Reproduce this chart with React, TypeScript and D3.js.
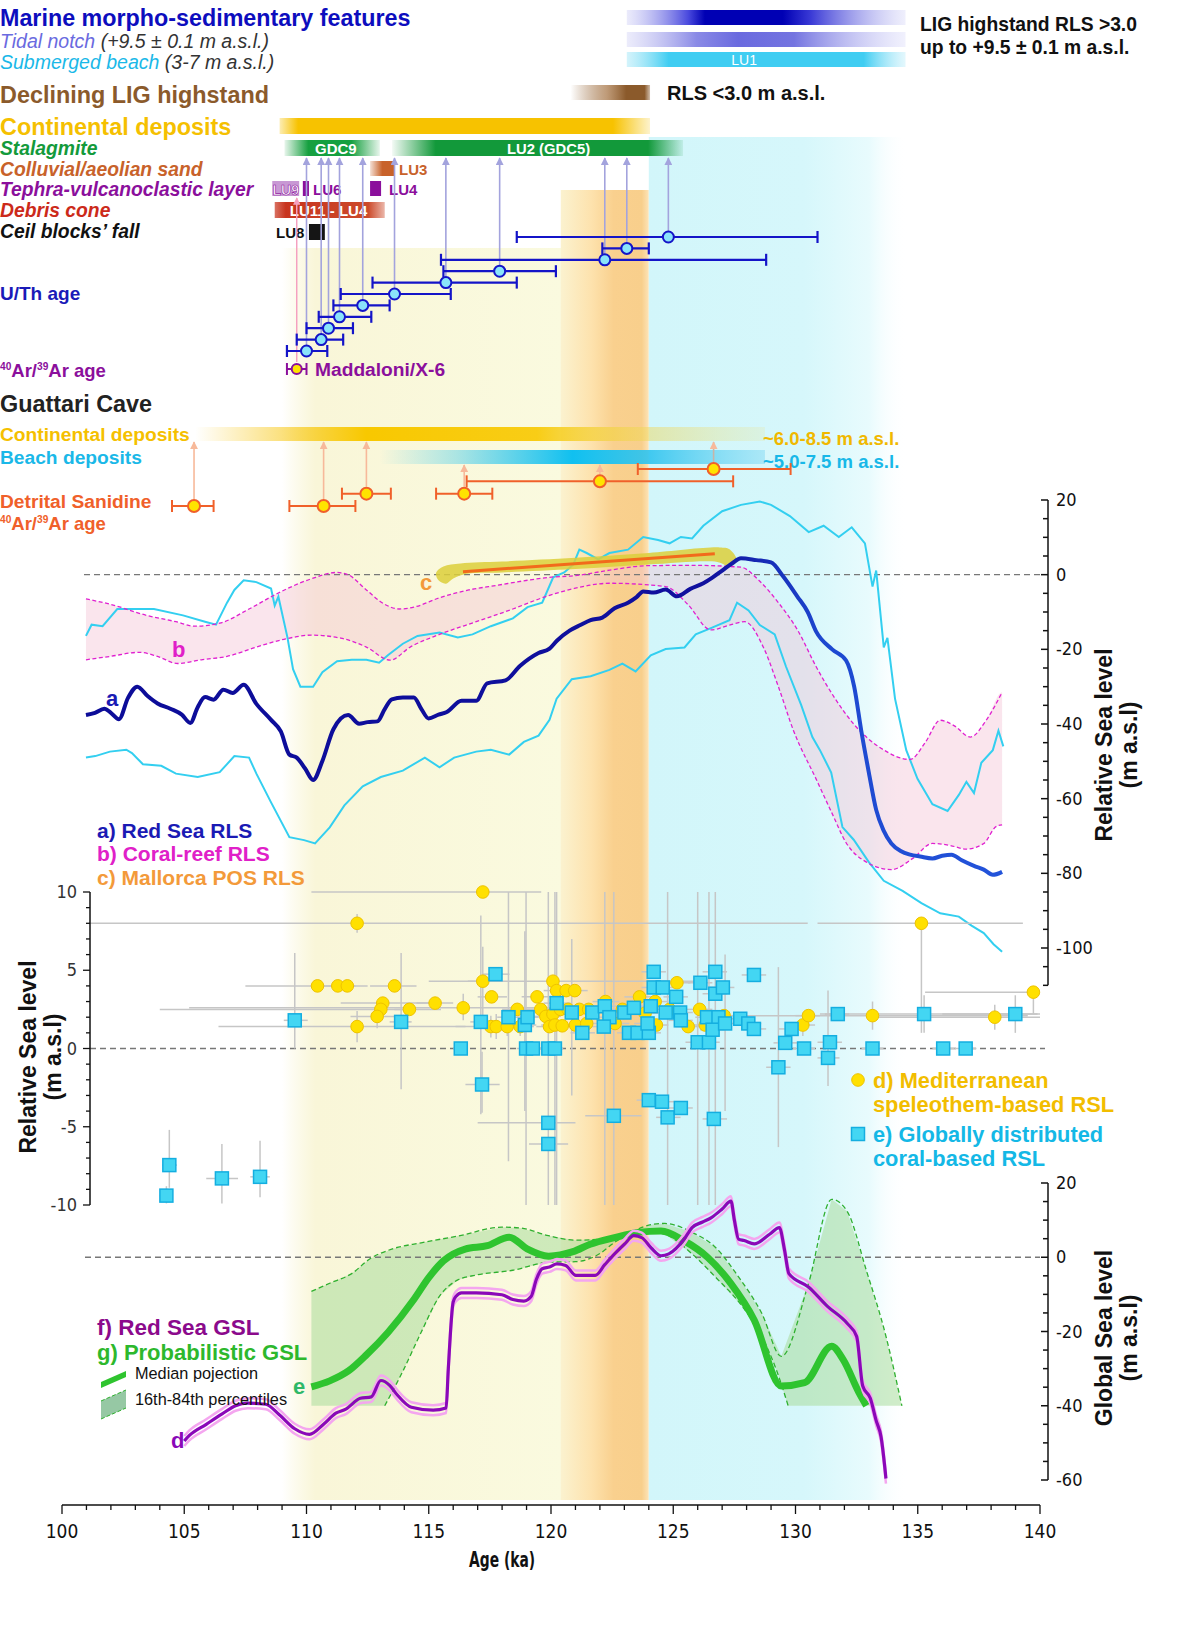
import React from "react";
import * as d3 from "d3";

type Pt = [number, number];
type Pt3 = [number, number, number];
// [age, value, ageMin, ageMax, valueMin, valueMax]
type ErrPt = [number, number, number, number, number, number];

// ---------- top panel: relative sea level (m a.s.l.) ----------
const redSeaRLS: Pt[] = [[100.98,-37.6],[101.35,-37],[101.73,-35.9],[102.0,-37],[102.33,-38.7],[102.7,-33],[103.08,-30],[103.5,-32.5],[103.91,-34.5],[104.43,-35.9],[104.9,-37.5],[105.25,-39.7],[105.55,-35.5],[105.85,-32.8],[106.2,-33.5],[106.6,-30.8],[106.98,-31.7],[107.43,-29.5],[107.95,-34.6],[108.55,-38.9],[108.95,-42],[109.3,-48.2],[109.6,-49],[109.95,-52],[110.27,-55],[110.65,-49.9],[111.1,-41.4],[111.7,-37.6],[112.15,-39.9],[112.5,-39.5],[112.9,-39.3],[113.2,-36],[113.49,-33.4],[113.94,-32.9],[114.39,-32.9],[114.7,-36],[114.99,-38.5],[115.4,-37.5],[115.74,-36.8],[116.34,-33.8],[116.94,-33.8],[117.39,-29.1],[118.14,-28.3],[118.74,-24.4],[119.49,-21],[119.94,-19.8],[120.24,-17.7],[120.76,-15],[121.2,-13.5],[121.62,-12.2],[122.1,-11.5],[122.6,-9],[123.15,-7.5],[123.5,-6],[123.77,-4.5],[124.2,-4.8],[124.69,-4],[125.15,-5.8],[125.7,-3.8],[126.23,-2.3],[126.6,-0.8],[127.0,1.1],[127.4,3],[127.77,4.4],[128.4,3.9],[129.0,3.3],[129.5,-0.5],[130.07,-5.8],[130.5,-10],[130.84,-15.2],[131.5,-20],[132.07,-23],[132.4,-30],[132.69,-41.8],[133.0,-53],[133.3,-63],[133.6,-68.5],[133.92,-72],[134.3,-74],[134.69,-75],[135.1,-75.5],[135.6,-76],[136.0,-75.3],[136.38,-75],[136.8,-76.5],[137.3,-78],[137.7,-79],[138.07,-80.4],[138.45,-79.6]];

const redSeaUpper: Pt[] = [[100.98,-16.4],[101.21,-13.4],[101.66,-13.8],[102.26,-9.2],[102.86,-9.2],[103.76,-9.2],[104.95,-10.9],[105.85,-12.6],[106.3,-13.4],[106.75,-7.5],[107.05,-4.1],[107.43,-1.5],[107.95,-2],[108.55,-3.7],[108.7,-8.3],[108.85,-5.9],[109.22,-16.8],[109.45,-25.3],[109.75,-30],[110.27,-30],[110.65,-26.1],[111.25,-23.2],[111.85,-22.8],[112.45,-22.8],[112.97,-23.6],[113.34,-21.5],[113.94,-18.5],[114.54,-16.4],[115.44,-15.5],[116.19,-16.8],[116.79,-16],[117.54,-13.8],[118.44,-11.7],[119.04,-8.7],[119.64,-7.5],[120.09,-0.7],[120.54,0.6],[120.91,2.7],[121.16,6.7],[121.46,5.8],[121.93,4.1],[122.39,5.8],[123.15,6.7],[123.77,10.1],[124.38,9.3],[124.85,8.4],[125.31,10.1],[125.77,9.7],[126.23,13.1],[127.0,17],[127.77,18.7],[128.54,19.6],[129.0,18.7],[129.77,15.7],[130.54,11.4],[131.15,13.1],[131.77,10.1],[132.3,12.7],[132.84,8.4],[133.15,-3.2],[133.3,1.1],[133.61,-19.5],[133.76,-16.9],[134.07,-33.2],[134.53,-47],[134.99,-54.7],[135.6,-61.5],[136.22,-63.3],[136.68,-59],[136.99,-55.5],[137.3,-58.5],[137.6,-50.4],[138.07,-47],[138.3,-41.8],[138.5,-46]];

const redSeaLower: Pt[] = [[100.98,-49],[101.36,-48.6],[101.96,-47.4],[102.63,-46.9],[102.86,-47.8],[103.31,-50.8],[104.06,-51.2],[104.66,-53.3],[105.55,-54.2],[106.45,-52.9],[107.05,-48.6],[107.65,-49],[107.95,-53.3],[108.55,-61],[109.3,-70.3],[109.9,-71.1],[110.35,-72],[110.95,-67.7],[111.55,-61.8],[112.3,-56.7],[113.04,-54.2],[113.94,-52.5],[114.84,-49],[115.44,-51.6],[116.04,-49],[116.94,-47.4],[117.54,-46.9],[118.29,-48.2],[118.89,-44.8],[119.49,-43.1],[119.94,-38.9],[120.23,-33.2],[120.85,-28],[121.62,-27.2],[122.39,-25.5],[122.92,-23.8],[123.46,-25.9],[124.08,-21.6],[124.69,-19.9],[125.46,-19.5],[125.92,-16],[126.54,-14.3],[127.3,-12.2],[127.61,-7.5],[128.08,-9.6],[128.54,-13.5],[129.15,-16],[129.61,-24.6],[130.23,-34.9],[130.69,-43.5],[131.0,-47],[131.46,-53],[131.92,-67.6],[132.38,-71],[133.0,-77],[133.61,-82],[134.38,-84.7],[135.15,-88],[135.92,-90.7],[136.68,-91.6],[137.2,-94],[137.7,-96],[138.1,-99],[138.45,-101]];

const coralUpper: Pt[] = [[100.98,-6.5],[101.96,-7.9],[103.46,-10.9],[104.66,-12.6],[105.4,-13.8],[106.45,-13],[107.65,-9.2],[108.85,-4.9],[110.2,-1.1],[111.25,0.6],[111.7,0],[112.45,-4.1],[113.19,-7.9],[113.79,-9.2],[114.39,-8.7],[115.44,-6.2],[116.64,-4.1],[117.84,-2.8],[119.04,-1.5],[119.94,-0.7],[120.95,-0.3],[122.4,1.2],[123.92,2.4],[125.8,2.5],[127.77,2],[128.5,-1.5],[129.3,-7.5],[130.1,-15],[130.84,-24.6],[131.6,-33],[132.38,-40],[133.5,-46.5],[134.69,-49.5],[135.3,-45],[135.92,-39],[136.5,-40.5],[137.15,-43.5],[137.8,-39],[138.45,-31.5]];

const coralLower: Pt[] = [[100.98,-22.8],[101.96,-21.9],[103.16,-20.8],[103.91,-21.9],[104.73,-23.8],[105.7,-22.8],[106.75,-21.9],[107.95,-19.4],[109.15,-17.2],[110.2,-16.2],[111.4,-17],[112.45,-19.4],[113.42,-22.9],[114.24,-19.4],[115.44,-16],[116.94,-12.6],[118.44,-9.2],[119.64,-6.2],[120.95,-3.7],[122.39,-2.3],[124.69,-3.2],[125.6,-8],[126.54,-14.8],[127.3,-13.5],[127.92,-12.6],[128.69,-19.5],[129.3,-30],[129.92,-41.8],[130.84,-54.7],[131.5,-64],[132.07,-71.8],[132.9,-77],[133.92,-79],[134.8,-76],[135.6,-72],[136.3,-72.5],[136.99,-73.5],[137.7,-72],[138.2,-67.5],[138.45,-67]];

const mallorcaLine: Pt[] = [[116.4,0.8],[126.7,5.6]];
const mallorcaBand: Pt[] = [[115.3,0.5],[115.6,2.2],[116.3,3.0],[118,3.5],[121,4.5],[124,5.8],[126.9,7.3],[127.3,6.8],[127.6,3.7],[127.3,2.2],[126.8,3.4],[124,2.7],[121,1.5],[118,0.6],[116.5,0.2],[116.0,-1.0],[115.7,-2.4],[115.4,-1.5]];

// ---------- dating: U/Th, Ar/Ar ([age, min, max]) ----------
const uthAges: Pt3[] = [[124.8,118.6,130.9],[123.1,122.1,124.0],[122.2,115.5,128.8],[117.9,115.6,120.2],[115.7,112.7,118.6],[113.6,111.4,115.9],[112.3,111.1,113.4],[111.35,110.5,112.65],[110.9,110.0,111.9],[110.6,109.6,111.5],[110.0,109.2,110.85]];
const maddaloniAge: Pt3 = [109.6, 109.2, 110.0];
const sanidineAges: Pt3[] = [[105.4,104.5,106.2],[110.7,109.3,112.0],[112.45,111.45,113.45],[116.45,115.3,117.6],[122.0,116.55,127.45],[126.65,123.55,129.8]];
const sanidineRow = [0, 0, 1, 1, 2, 3];
const sanidineTarget = ["cont", "cont", "cont", "beach", "beach", "cont"];

// ---------- middle panel: RSL index points ----------
const speleothemRSL: ErrPt[] = [
  [117.21,10,110.2,119.6,10,10],[112.07,8,101.1,130.5,7.4,8.6],[110.45,4,107.5,111.3,4,4],[111.28,4,110.4,112.0,4,4],
  [111.67,4,110.9,112.5,4,4],[113.6,4,112.6,114.5,4,4],[113.12,2.9,111.4,115.2,2.9,2.9],[113.04,2.5,104.0,114.0,1.8,3.2],
  [112.89,2.05,111.8,113.9,1.3,2.7],[114.21,2.5,113.6,115.5,2.5,2.5],[115.26,2.9,114.5,116.0,2.9,2.9],[116.41,2.6,105.2,121.0,1.8,3.5],
  [112.07,1.4,106.4,116.5,0.4,2.4],[117.21,4.3,116.6,117.9,1.5,6.5],[117.57,3.3,117.0,118.2,3.3,3.3],[117.54,1.4,116.1,118.3,0.7,2.1],
  [117.76,1.4,117.2,118.4,0.6,2.2],[118.21,1.4,117.7,118.8,0.8,2.0],[118.62,2.5,118.0,119.3,2.5,2.5],[118.74,1.4,118.2,119.3,0.8,2.0],
  [119.43,3.3,118.8,120.1,3.3,3.3],[119.58,2.5,118.9,120.3,2.5,2.5],[119.79,2.05,119.2,120.4,2.05,2.05],[119.94,1.4,119.4,120.5,1.4,1.4],
  [120.08,4.3,115.0,126.0,4.3,4.3],[120.23,3.7,119.7,120.8,3.7,3.7],[120.62,3.7,120.1,121.2,3.7,3.7],[120.97,3.7,120.4,121.5,3.7,3.7],
  [120.08,2.2,119.5,120.6,2.2,2.2],[120.39,2.5,119.9,120.9,2.5,2.5],[120.7,2.5,120.2,121.2,2.5,2.5],[121.16,2.5,120.6,121.7,2.5,2.5],
  [121.54,2.5,121.0,122.1,2.5,2.5],[122.23,3.0,121.7,122.8,3.0,3.0],[120.16,1.5,119.6,120.7,1.5,1.5],[120.46,1.45,119.9,121.0,1.45,1.45],
  [121.0,1.5,120.5,121.5,1.5,1.5],[121.46,1.6,120.9,122.0,1.6,1.6],[122.62,1.6,122.0,123.2,1.6,1.6],[122.92,2.5,122.3,123.5,2.5,2.5],
  [123.62,3.3,123.0,124.2,3.3,3.3],[123.85,2.26,123.3,124.4,2.26,2.26],[124.26,3.0,123.7,124.8,3.0,3.0],[124.31,1.5,123.8,124.8,1.5,1.5],
  [124.85,2.5,124.3,125.4,2.5,2.5],[125.15,4.2,124.6,125.7,4.2,4.2],[125.61,1.4,125.1,126.1,1.4,1.4],[126.08,2.5,125.5,126.6,2.5,2.5],
  [126.31,1.5,125.8,126.8,1.5,1.5],[127.08,2.1,126.5,127.6,2.1,2.1],[130.3,1.5,129.8,130.8,0.8,2.3],[130.53,2.1,130.0,131.0,2.1,2.1],
  [133.15,2.1,128.0,139.5,1.2,3.0],[135.15,8,130.9,139.3,1.0,8],[138.15,2.0,133.0,140.0,1.2,2.8],[139.73,3.6,135.3,139.73,2.2,3.6],
];

const coralRSL: ErrPt[] = [
  [104.39,-7.45,104.1,104.7,-8.9,-5.2],[104.27,-9.4,104.0,104.5,-9.9,-8.8],[106.54,-8.3,105.9,107.2,-9.9,-6.1],[108.1,-8.2,107.7,108.5,-9.5,-5.9],
  [109.52,1.8,109.07,110.05,0,6.1],[113.87,1.7,113.4,114.3,-2.6,6.1],[116.31,0,116.0,116.6,0,0],[117.13,1.7,116.7,117.6,-4.2,8.5],
  [117.18,-2.3,116.5,117.9,-4.1,-0.2],[117.73,4.75,117.2,118.3,4.75,4.75],[118.26,2.0,117.8,118.7,-7.2,10],[118.93,1.5,118.4,119.4,-4,7.5],
  [119.04,2.0,118.6,119.5,2.0,2.0],[118.98,0,118.6,119.3,-10,10],[119.26,0,118.9,119.6,0,0],[119.89,0,119.5,120.3,-10,10],
  [120.16,0,119.8,120.5,-10,10],[119.89,-4.75,117.0,121.0,-4.75,-4.75],[119.89,-6.1,119.1,120.7,-6.1,-6.1],
  [120.23,2.9,119.7,120.8,-10,10],[120.85,2.3,120.3,121.4,-3,7],[121.28,1.0,120.8,121.8,1.0,1.0],[121.69,2.3,121.2,122.2,2.3,2.3],
  [122.2,2.7,121.7,122.7,-10,10],[122.39,2.0,121.9,122.9,2.0,2.0],[122.16,1.4,121.6,122.7,1.4,1.4],[123.0,2.3,122.5,123.5,2.3,2.3],
  [123.39,2.6,122.9,123.9,2.6,2.6],[123.19,1.0,122.7,123.7,1.0,1.0],[123.54,1.0,123.0,124.0,1.0,1.0],[124.0,1.0,123.5,124.5,1.0,1.0],
  [123.95,1.6,123.4,124.5,1.6,1.6],[124.08,2.7,123.6,124.6,2.7,2.7],[124.2,4.9,123.7,124.7,4.9,4.9],[124.2,3.9,123.7,124.7,3.9,3.9],
  [124.57,3.9,124.1,125.1,3.9,3.9],[124.69,2.3,124.2,125.2,2.3,2.3],[125.12,3.3,124.6,125.6,3.3,3.3],[125.28,2.3,124.8,125.8,2.3,2.3],
  [125.31,1.8,124.8,125.8,1.8,1.8],[126.0,0.4,125.5,126.5,-10,10],[126.46,0.4,126.0,126.9,-10,10],[126.11,4.2,125.6,126.6,4.2,4.2],
  [126.72,4.9,126.2,127.2,-10,10],[126.72,3.5,126.2,127.2,3.5,3.5],[127.03,3.9,126.5,127.5,3.9,3.9],[126.38,2.0,125.9,126.9,2.0,2.0],
  [126.85,2.0,126.4,127.3,2.0,2.0],[126.61,1.2,126.1,127.1,1.2,1.2],[127.12,1.6,126.6,127.6,-4,6],[127.74,1.9,127.2,128.3,1.9,1.9],
  [128.3,4.7,127.8,128.8,4.7,4.7],[128.07,1.6,127.5,128.6,1.6,1.6],[128.3,1.25,127.8,128.8,1.25,1.25],[129.3,-1.2,128.8,129.8,-6.3,5.2],
  [129.58,0.36,129.1,130.1,0.36,0.36],[129.84,1.25,129.3,130.3,1.25,1.25],[130.35,0,129.9,130.8,0,0],[131.33,-0.6,130.9,131.8,-2.4,3.7],
  [131.41,0.4,130.9,131.9,0.4,0.4],[131.73,2.2,131.2,132.2,2.2,2.2],[133.15,0,132.7,133.6,0,0],[135.26,2.2,131.0,140.0,1.0,3.4],
  [136.04,0,135.6,136.5,0,0],[136.96,0,136.5,137.4,0,0],[138.99,2.2,136.0,139.9,1.0,3.4],[124.0,-3.3,123.5,124.5,-3.3,-3.3],
  [124.54,-3.4,124.0,125.1,-3.4,-3.4],[122.57,-4.3,121.4,123.7,-10,10],[124.77,-4.4,124.3,125.3,-10,10],[125.31,-3.8,124.8,125.8,-3.8,-3.8],
  [126.66,-4.5,126.2,127.2,-4.5,-4.5],
];

// ---------- bottom panel: global sea level ----------
const redSeaGSL: Pt[] = [[105.0,-49.5],[105.21,-48],[105.9,-45],[106.55,-42.2],[107.1,-40],[107.59,-39.3],[108.33,-39.6],[108.9,-42.5],[109.52,-46.2],[110.12,-47.7],[110.71,-44.9],[111.2,-42],[111.61,-40.9],[112.2,-38],[112.65,-37.6],[113.04,-33.2],[113.4,-34.5],[113.69,-36.9],[114.29,-40.4],[115.18,-41.2],[115.71,-40.6],[115.8,-30],[116.0,-12],[116.12,-10.5],[116.34,-9.6],[116.94,-9.6],[117.99,-10.1],[118.44,-11.4],[118.89,-11.8],[119.19,-10.5],[119.4,-6],[119.64,-3.1],[119.94,-2.6],[120.24,-1.8],[120.6,-2.2],[121.02,-4.9],[121.81,-4.9],[122.2,-2],[122.6,0.9],[123.0,3.5],[123.39,5.8],[123.71,5.3],[124.1,2.5],[124.5,0.4],[124.82,0.9],[125.45,4.9],[125.77,8],[126.2,9.5],[126.56,10.7],[127.0,13],[127.36,15.1],[127.5,10],[127.67,4.9],[127.9,4.5],[128.31,3.6],[128.94,6.2],[129.34,8],[129.55,2],[129.73,-4.4],[130.53,-8],[131.32,-13.3],[132.11,-17.8],[132.5,-21.3],[132.75,-34.7],[133.06,-38],[133.3,-44],[133.5,-48.4],[133.7,-59.6]];

const probMedian: Pt[] = [[110.2,-34.9],[110.95,-33.3],[111.7,-30.7],[112.45,-26.3],[113.34,-20.2],[114.39,-11.4],[115.0,-5.5],[115.6,-1],[116.49,2.2],[117.39,3.1],[118.29,5.4],[119.04,2.2],[119.9,0.3],[120.9,1.5],[121.6,3.5],[122.6,5.3],[123.55,6.7],[124.5,7.1],[125.45,4.4],[126.4,0],[127.36,-7.1],[128.31,-16.9],[129.42,-34.7],[130.37,-33.8],[131.48,-24],[131.95,-27.6],[132.59,-36.4],[132.9,-40]];
const probUpper: Pt[] = [[110.2,-9.2],[110.95,-7],[111.85,-4.4],[112.6,-0.4],[113.49,2.2],[114.69,3.9],[116.19,5.7],[117.99,8.1],[118.74,7.9],[119.9,5.8],[121.0,4.6],[122.6,5.3],[124.19,8.9],[124.66,9.1],[125.77,6.7],[126.72,2.7],[127.67,-5.3],[128.62,-15.1],[129.42,-26.7],[130.53,-7.1],[131.48,15.6],[132.11,12.4],[132.9,-3.6],[133.7,-21.3],[134.35,-40]];
const probLower: Pt[] = [[113.2,-40],[113.94,-30.7],[114.69,-20.2],[115.44,-10.5],[116.19,-6.1],[116.94,-4.8],[118.44,-3.5],[119.94,-1.3],[121.0,-1.2],[122.0,1.0],[122.6,4.0],[123.71,7.1],[124.66,6.2],[125.77,0.9],[126.72,-5.3],[127.83,-13.3],[128.62,-21.3],[129.26,-31.1],[129.7,-40]];

// ---------- layout ----------
const W = 1199, H = 1643;
const F = "'Liberation Sans', Arial, Helvetica, sans-serif";
const FN = "'Liberation Sans Narrow', 'Arial Narrow', 'DejaVu Sans Condensed', sans-serif";

const x = d3.scaleLinear().domain([100, 140]).range([62, 1040]);
const yTop = d3.scaleLinear().domain([20, -100]).range([500, 948]);
const yMid = d3.scaleLinear().domain([10, -10]).range([892, 1205]);
const yBot = d3.scaleLinear().domain([20, -60]).range([1183, 1480]);
const yUth = d3.scaleLinear().domain([0, 10]).range([237, 351]);
const ySan = d3.scaleLinear().domain([0, 3]).range([506, 469]);

const topSmooth = d3.line<Pt>().x(d => x(d[0])).y(d => yTop(d[1])).curve(d3.curveMonotoneX);
const topJag = d3.line<Pt>().x(d => x(d[0])).y(d => yTop(d[1]));
const topBlob = d3.line<Pt>().x(d => x(d[0])).y(d => yTop(d[1])).curve(d3.curveCatmullRomClosed.alpha(0.5));
const botSmooth = d3.line<Pt>().x(d => x(d[0])).y(d => yBot(d[1])).curve(d3.curveMonotoneX);
const botPoly = d3.line<Pt>().x(d => x(d[0])).y(d => yBot(d[1])).curve(d3.curveLinearClosed);

type Stop = [number, string, number];
const Grad = ({ id, stops }: { id: string; stops: Stop[] }) => (
  <linearGradient id={id} x1="0" x2="1" y1="0" y2="0">
    {stops.map((s, i) => <stop key={i} offset={s[0]} stopColor={s[1]} stopOpacity={s[2]} />)}
  </linearGradient>
);

const Bar = ({ a, b, y, h, fill }: { a: number; b: number; y: number; h: number; fill: string }) => (
  <rect x={x(a)} y={y} width={x(b) - x(a)} height={h} fill={fill} />
);

const ArAr = ({ y, size, fill }: { y: number; size: number; fill: string }) => (
  <text x={0} y={y} fontSize={size} fontWeight="bold" fill={fill}>
    <tspan fontSize={size * 0.55} dy={-7}>40</tspan><tspan dy={7}>Ar/</tspan>
    <tspan fontSize={size * 0.55} dy={-7}>39</tspan><tspan dy={7}>Ar age</tspan>
  </text>
);

export default function App() {
  const coralPoly = [...coralUpper, ...coralLower.slice().reverse()];
  const gslPoly: Pt[] = [[110.2, -40], ...probUpper, ...probLower.slice().reverse()];
  const uthArrowTop = 158;

  const topTicks = d3.range(20, -111, -5);
  const botTicks = d3.range(20, -61, -5);
  const midTicks = d3.range(10, -11, -1);
  const xTicks = d3.range(100, 141, 1);

  return (
    <svg width={W} height={H} viewBox={`0 0 ${W} ${H}`} style={{ position: "absolute", left: 0, top: 0, background: "#fff" }} fontFamily={F}>
      <defs>
        <Grad id="gYellow" stops={[[0, "#f8f4d0", 0], [0.12, "#f9f6d8", 1], [1, "#fafadf", 1]]} />
        <Grad id="gOrange" stops={[[0, "#fbf2cf", 1], [0.35, "#fde2ad", 1], [0.6, "#f9d08e", 1], [0.92, "#f8cf8c", 1], [1, "#fde4b8", 1]]} />
        <Grad id="gCyan" stops={[[0, "#d2f6fa", 1], [0.6, "#d6f7fb", 1], [0.85, "#e8fbfd", 1], [1, "#ffffff", 0]]} />
        <Grad id="gBarA" stops={[[0, "#b0b0f0", 0.25], [0.22, "#4a4ade", 1], [0.28, "#0000b4", 1], [0.56, "#0000b4", 1], [0.66, "#3a3ad6", 1], [1, "#d8d8f8", 0.4]]} />
        <Grad id="gBarB" stops={[[0, "#c0c0f2", 0.3], [0.25, "#8a8ae6", 1], [0.4, "#6a6adf", 1], [0.6, "#7474e0", 1], [1, "#dcdcfa", 0.4]]} />
        <Grad id="gBarC" stops={[[0, "#a8e8f8", 0.5], [0.15, "#40cdf2", 1], [0.85, "#40cdf2", 1], [1, "#c8f0fb", 0.5]]} />
        <Grad id="gBrown" stops={[[0, "#8b5a2b", 0], [0.45, "#b08358", 0.8], [0.7, "#8b5a2b", 1], [0.93, "#8b5a2b", 1], [1, "#8b5a2b", 0.4]]} />
        <Grad id="gGold" stops={[[0, "#f7c200", 0.3], [0.05, "#f7c200", 1], [0.9, "#f7c200", 1], [1, "#f7c200", 0.2]]} />
        <Grad id="gGreen9" stops={[[0, "#16a040", 0.1], [0.25, "#16a040", 1], [0.7, "#16a040", 1], [1, "#16a040", 0.1]]} />
        <Grad id="gGreen2" stops={[[0, "#12993a", 0.05], [0.15, "#12993a", 1], [0.88, "#12993a", 1], [1, "#12993a", 0.1]]} />
        <Grad id="gLU3" stops={[[0, "#c8622a", 0.2], [0.5, "#c8622a", 1], [1, "#c8622a", 1]]} />
        <Grad id="gDebris" stops={[[0, "#c8341e", 0.7], [0.1, "#c8341e", 1], [0.85, "#cc4a2a", 1], [1, "#cc4a2a", 0.4]]} />
        <Grad id="gGCont" stops={[[0, "#f7c200", 0], [0.12, "#f7c200", 0.4], [0.3, "#f8c800", 1], [0.6, "#f8c800", 0.9], [0.8, "#efd860", 0.5], [1, "#e0ecc0", 0.4]]} />
        <Grad id="gGBeach" stops={[[0, "#18c0f0", 0], [0.2, "#18c0f0", 0.35], [0.5, "#10c0f0", 1], [0.7, "#30c4ef", 0.9], [1, "#90def5", 0.6]]} />
        <linearGradient id="gBlue" gradientUnits="userSpaceOnUse" x1={x(100)} x2={x(140)} y1="0" y2="0">
          <stop offset="0" stopColor="#0c0c98" />
          <stop offset="0.66" stopColor="#10109e" />
          <stop offset="0.78" stopColor="#1d48d0" />
          <stop offset="1" stopColor="#2456dc" />
        </linearGradient>
        <marker id="arU" viewBox="0 0 10 10" refX="9" refY="5" markerWidth="5" markerHeight="5" orient="auto">
          <path d="M0,0 L10,5 L0,10 z" fill="#a3a3dd" />
        </marker>
        <marker id="arS" viewBox="0 0 10 10" refX="9" refY="5" markerWidth="5" markerHeight="5" orient="auto">
          <path d="M0,0 L10,5 L0,10 z" fill="#f7b99a" />
        </marker>
        <marker id="arP" viewBox="0 0 10 10" refX="9" refY="5" markerWidth="5" markerHeight="5" orient="auto">
          <path d="M0,0 L10,5 L0,10 z" fill="#f5a0c0" />
        </marker>
      </defs>

      {/* background time bands */}
      <rect x={x(109.0)} y={248} width={x(120.5) - x(109.0)} height={1252} fill="url(#gYellow)" />
      <rect x={x(120.4)} y={190} width={x(124.0) - x(120.4)} height={1310} fill="url(#gOrange)" />
      <rect x={x(124.0)} y={137} width={x(134.6) - x(124.0)} height={1363} fill="url(#gCyan)" />

      {/* header texts */}
      <text x={0} y={26} fontSize={23.3} fontWeight="bold" fill="#0d0dbe">Marine morpho-sedimentary features</text>
      <text x={0} y={48} fontSize={19.5} fontStyle="italic">
        <tspan fill="#6a6ae0">Tidal notch</tspan><tspan fill="#333"> (+9.5 ± 0.1 m a.s.l.)</tspan>
      </text>
      <text x={0} y={69} fontSize={19.5} fontStyle="italic">
        <tspan fill="#1ab8e8">Submerged beach</tspan><tspan fill="#333"> (3-7 m a.s.l.)</tspan>
      </text>
      <text x={0} y={103} fontSize={23.4} fontWeight="bold" fill="#8b5a2b">Declining LIG highstand</text>
      <text x={0} y={135} fontSize={23.4} fontWeight="bold" fill="#f5c000">Continental deposits</text>
      <g fontSize={19.3} fontWeight="bold" fontStyle="italic">
        <text x={0} y={155} fill="#139a3b">Stalagmite</text>
        <text x={0} y={176} fill="#c8622a">Colluvial/aeolian sand</text>
        <text x={0} y={196} fill="#8b0f9c">Tephra-vulcanoclastic layer</text>
        <text x={0} y={217} fill="#cc2a1a">Debris cone</text>
        <text x={0} y={238} fill="#111">Ceil blocks’ fall</text>
      </g>
      <text x={0} y={300} fontSize={19} fontWeight="bold" fill="#1a1ab8">U/Th age</text>
      <ArAr y={377} size={18.5} fill="#8b0f9c" />
      <text x={0} y={412} fontSize={23.4} fontWeight="bold" fill="#222">Guattari Cave</text>
      <text x={0} y={441} fontSize={19.2} fontWeight="bold" fill="#f5c000">Continental deposits</text>
      <text x={0} y={464} fontSize={19.2} fontWeight="bold" fill="#1ab8e8">Beach deposits</text>
      <text x={0} y={508} fontSize={19.2} fontWeight="bold" fill="#f0602a">Detrital Sanidine</text>
      <ArAr y={530} size={18.5} fill="#f0602a" />

      {/* top-right marine bars */}
      <Bar a={123.1} b={134.5} y={10} h={15} fill="url(#gBarA)" />
      <Bar a={123.1} b={134.5} y={32} h={15} fill="url(#gBarB)" />
      <Bar a={123.1} b={134.5} y={52} h={15} fill="url(#gBarC)" />
      <text x={x(127.9)} y={64.5} fontSize={14} fill="#fff" textAnchor="middle">LU1</text>
      <text x={920} y={31} fontSize={19.3} fontWeight="bold" fill="#111">LIG highstand RLS &gt;3.0</text>
      <text x={920} y={54} fontSize={19.3} fontWeight="bold" fill="#111">up to +9.5 ± 0.1 m a.s.l.</text>
      <Bar a={120.8} b={124.05} y={85} h={15} fill="url(#gBrown)" />
      <text x={667} y={100} fontSize={20} fontWeight="bold" fill="#111">RLS &lt;3.0 m a.s.l.</text>

      {/* stratigraphic units */}
      <Bar a={108.9} b={124.05} y={118} h={16} fill="url(#gGold)" />
      <Bar a={109.1} b={113.0} y={140} h={16} fill="url(#gGreen9)" />
      <text x={x(111.2)} y={153.5} fontSize={15} fontWeight="bold" fill="#fff" textAnchor="middle">GDC9</text>
      <Bar a={113.5} b={125.4} y={140} h={16} fill="url(#gGreen2)" />
      <text x={x(119.9)} y={153.5} fontSize={14.8} fontWeight="bold" fill="#fff" textAnchor="middle">LU2 (GDC5)</text>
      <Bar a={112.6} b={113.6} y={161} h={15} fill="url(#gLU3)" />
      <text x={399} y={174.5} fontSize={15} fontWeight="bold" fill="#c8622a">LU3</text>
      <Bar a={108.6} b={109.7} y={181} h={15} fill="#c898d4" />
      <text x={x(109.15)} y={194.5} fontSize={14} fontWeight="bold" fill="#fff" stroke="#8b0f9c" strokeWidth={0.6} textAnchor="middle">LU9</text>
      <Bar a={109.85} b={110.1} y={181} h={15} fill="#8b0f9c" />
      <text x={313} y={194.5} fontSize={15} fontWeight="bold" fill="#8b0f9c">LU6</text>
      <Bar a={112.6} b={113.05} y={181} h={15} fill="#8b0f9c" />
      <text x={389} y={194.5} fontSize={15} fontWeight="bold" fill="#8b0f9c">LU4</text>
      <Bar a={108.7} b={113.2} y={202} h={16} fill="url(#gDebris)" />
      <text x={x(110.9)} y={215.5} fontSize={15} fontWeight="bold" fill="#fff" textAnchor="middle">LU11 - LU4</text>
      <text x={276} y={238} fontSize={15} fontWeight="bold" fill="#111">LU8</text>
      <Bar a={110.1} b={110.75} y={224} h={16} fill="#151515" />

      {/* U/Th arrows and ages */}
      {uthAges.map((d, i) => (
        <line key={"ua" + i} x1={x(d[0])} x2={x(d[0])} y1={yUth(i) - 6} y2={uthArrowTop} stroke="#a3a3dd" strokeWidth={1.6} markerEnd="url(#arU)" />
      ))}
      <line x1={x(maddaloniAge[0])} x2={x(maddaloniAge[0])} y1={362} y2={198} stroke="#f5a0c0" strokeWidth={1.5} markerEnd="url(#arP)" />
      {uthAges.map((d, i) => {
        const yy = yUth(i);
        return (
          <g key={"u" + i} stroke="#1414c8" strokeWidth={2.2}>
            <line x1={x(d[1])} x2={x(d[2])} y1={yy} y2={yy} />
            <line x1={x(d[1])} x2={x(d[1])} y1={yy - 6} y2={yy + 6} />
            <line x1={x(d[2])} x2={x(d[2])} y1={yy - 6} y2={yy + 6} />
            <circle cx={x(d[0])} cy={yy} r={5.5} fill="#8ae4fa" strokeWidth={2} />
          </g>
        );
      })}
      <g stroke="#8b0f9c" strokeWidth={2}>
        <line x1={x(maddaloniAge[1])} x2={x(maddaloniAge[2])} y1={369} y2={369} />
        <line x1={x(maddaloniAge[1])} x2={x(maddaloniAge[1])} y1={363} y2={375} />
        <line x1={x(maddaloniAge[2])} x2={x(maddaloniAge[2])} y1={363} y2={375} />
        <circle cx={x(maddaloniAge[0])} cy={369} r={5} fill="#ffe400" />
      </g>
      <text x={315} y={376} fontSize={19.2} fontWeight="bold" fill="#8b0f9c">Maddaloni/X-6</text>

      {/* Guattari deposits */}
      <Bar a={105.45} b={128.75} y={427} h={14} fill="url(#gGCont)" />
      <Bar a={113.0} b={128.75} y={450} h={14} fill="url(#gGBeach)" />
      <text x={763} y={445} fontSize={18.5} fontWeight="bold" fill="#f0b800">~6.0-8.5 m a.s.l.</text>
      <text x={763} y={468} fontSize={18.5} fontWeight="bold" fill="#18b8e8">~5.0-7.5 m a.s.l.</text>
      {sanidineAges.map((d, i) => {
        const yy = ySan(sanidineRow[i]);
        const target = sanidineTarget[i] === "cont" ? 442 : 465;
        return (
          <g key={"s" + i}>
            <line x1={x(d[0])} x2={x(d[0])} y1={yy - 7} y2={target} stroke={i === 5 ? "#c8b4a8" : "#f7b99a"} strokeWidth={1.6} markerEnd="url(#arS)" />
            <g stroke="#f0602a" strokeWidth={2}>
              <line x1={x(d[1])} x2={x(d[2])} y1={yy} y2={yy} />
              <line x1={x(d[1])} x2={x(d[1])} y1={yy - 6} y2={yy + 6} />
              <line x1={x(d[2])} x2={x(d[2])} y1={yy - 6} y2={yy + 6} />
              <circle cx={x(d[0])} cy={yy} r={6} fill="#ffe400" />
            </g>
          </g>
        );
      })}

      {/* ===== top panel: RLS curves ===== */}
      <path d={topSmooth(coralPoly) ?? ""} fill="#f3c6d6" fillOpacity={0.45} stroke="none" />
      <line x1={x(100.9)} x2={x(140)} y1={yTop(0)} y2={yTop(0)} stroke="#777" strokeWidth={1.3} strokeDasharray="6,4" />
      <path d={topJag(redSeaUpper) ?? ""} fill="none" stroke="#33cff0" strokeWidth={2} />
      <path d={topJag(redSeaLower) ?? ""} fill="none" stroke="#33cff0" strokeWidth={2} />
      <path d={topSmooth(coralUpper) ?? ""} fill="none" stroke="#e020d0" strokeWidth={1.3} strokeDasharray="4,2.5" />
      <path d={topSmooth(coralLower) ?? ""} fill="none" stroke="#e020d0" strokeWidth={1.3} strokeDasharray="4,2.5" />
      <path d={topBlob(mallorcaBand) ?? ""} fill="#dccf3a" fillOpacity={0.85} />
      <path d={topJag(mallorcaLine) ?? ""} fill="none" stroke="#f26a1b" strokeWidth={3} />
      <path d={topSmooth(redSeaRLS) ?? ""} fill="none" stroke="url(#gBlue)" strokeWidth={4} strokeLinejoin="round" />
      <text x={106} y={706} fontSize={22} fontWeight="bold" fill="#1a1ab4">a</text>
      <text x={172} y={657} fontSize={22} fontWeight="bold" fill="#e020c8">b</text>
      <text x={420} y={590} fontSize={22} fontWeight="bold" fill="#f39a3a">c</text>
      <g fontSize={21} fontWeight="bold">
        <text x={97} y={838} fill="#1a1ab4">a) Red Sea RLS</text>
        <text x={97} y={861} fill="#e020c8">b) Coral-reef RLS</text>
        <text x={97} y={885} fill="#f39a3a">c) Mallorca POS RLS</text>
      </g>

      {/* top right axis */}
      <g>
        <line x1={1048} x2={1048} y1={yTop(20)} y2={yTop(-110)} stroke="#111" strokeWidth={1.5} />
        {topTicks.map(t => (
          <line key={"tt" + t} x1={t % 20 === 0 ? 1041 : 1043} x2={1048} y1={yTop(t)} y2={yTop(t)} stroke="#111" strokeWidth={1.5} />
        ))}
        {topTicks.filter(t => t % 20 === 0).map(t => (
          <text key={"tl" + t} x={1056} y={yTop(t) + 6} fontSize={18} fontFamily={FN} fill="#111">{t}</text>
        ))}
        <g fontSize={23} fontWeight="bold" fill="#111" textAnchor="middle">
          <text transform={`translate(1112,745) rotate(-90)`}>Relative Sea level</text>
          <text transform={`translate(1137,745) rotate(-90)`}>(m a.s.l)</text>
        </g>
      </g>

      {/* ===== middle panel: RSL index points ===== */}
      <line x1={90} x2={1045} y1={yMid(0)} y2={yMid(0)} stroke="#777" strokeWidth={1.3} strokeDasharray="6,4" />
      <g stroke="#c6c6c6" strokeWidth={1.5}>
        {[...speleothemRSL, ...coralRSL].map((d, i) => (
          <g key={"e" + i}>
            {d[2] !== d[3] && <line x1={x(d[2])} x2={x(d[3])} y1={yMid(d[1])} y2={yMid(d[1])} />}
            {d[4] !== d[5] && <line x1={x(d[0])} x2={x(d[0])} y1={yMid(d[4])} y2={yMid(d[5])} />}
          </g>
        ))}
      </g>
      {speleothemRSL.map((d, i) => (
        <circle key={"sp" + i} cx={x(d[0])} cy={yMid(d[1])} r={6.3} fill="#ffe000" stroke="#eec200" strokeWidth={1} />
      ))}
      {coralRSL.map((d, i) => (
        <rect key={"co" + i} x={x(d[0]) - 6.5} y={yMid(d[1]) - 6.5} width={13} height={13} fill="#43d6f3" stroke="#14aee0" strokeWidth={1.5} />
      ))}
      <g>
        <line x1={90} x2={90} y1={yMid(10)} y2={yMid(-10)} stroke="#111" strokeWidth={1.5} />
        {midTicks.map(t => (
          <line key={"mt" + t} x1={t % 5 === 0 ? 83 : 86} x2={90} y1={yMid(t)} y2={yMid(t)} stroke="#111" strokeWidth={1.3} />
        ))}
        {midTicks.filter(t => t % 5 === 0).map(t => (
          <text key={"ml" + t} x={77} y={yMid(t) + 6} fontSize={18} fontFamily={FN} fill="#333" textAnchor="end">{t}</text>
        ))}
        <g fontSize={23} fontWeight="bold" fill="#111" textAnchor="middle">
          <text transform={`translate(36,1057) rotate(-90)`}>Relative Sea level</text>
          <text transform={`translate(61,1057) rotate(-90)`}>(m a.s.l)</text>
        </g>
      </g>
      <circle cx={858} cy={1080} r={6.3} fill="#ffe000" stroke="#eec200" />
      <g fontSize={21.8} fontWeight="bold" fill="#f2bd00">
        <text x={873} y={1088}>d) Mediterranean</text>
        <text x={873} y={1112}>speleothem-based RSL</text>
      </g>
      <rect x={851.5} y={1127.5} width={13} height={13} fill="#43d6f3" stroke="#14aee0" strokeWidth={1.5} />
      <g fontSize={21.8} fontWeight="bold" fill="#14b8e6">
        <text x={873} y={1142}>e) Globally distributed</text>
        <text x={873} y={1166}>coral-based RSL</text>
      </g>

      {/* ===== bottom panel: GSL ===== */}
      <path d={botPoly(gslPoly) ?? ""} fill="#a9dc9c" fillOpacity={0.55} />
      <line x1={85} x2={1040} y1={yBot(0)} y2={yBot(0)} stroke="#777" strokeWidth={1.3} strokeDasharray="6,4" />
      <path d={botSmooth(probUpper) ?? ""} fill="none" stroke="#2fb02f" strokeWidth={1.3} strokeDasharray="5,3" />
      <path d={botSmooth(probLower) ?? ""} fill="none" stroke="#2fb02f" strokeWidth={1.3} strokeDasharray="5,3" />
      <path d={botSmooth(probMedian) ?? ""} fill="none" stroke="#2fc42f" strokeWidth={7} />
      <path d={botSmooth(redSeaGSL) ?? ""} fill="none" stroke="#f4a6ef" strokeWidth={2.5} transform="translate(0,-5)" />
      <path d={botSmooth(redSeaGSL) ?? ""} fill="none" stroke="#f4a6ef" strokeWidth={2.5} transform="translate(0,5)" />
      <path d={botSmooth(redSeaGSL) ?? ""} fill="none" stroke="#8a08b8" strokeWidth={3.2} />
      <text x={171} y={1448} fontSize={22} fontWeight="bold" fill="#8a08b8">d</text>
      <text x={293} y={1394} fontSize={22} fontWeight="bold" fill="#2fb868">e</text>
      <text x={97} y={1335} fontSize={22.5} fontWeight="bold" fill="#8b0a8c">f) Red Sea GSL</text>
      <text x={97} y={1360} fontSize={22} fontWeight="bold" fill="#2db82d">g) Probabilistic GSL</text>
      <polygon points="101,1382 126,1371 126,1377 101,1388" fill="#2fc42f" />
      <text x={135} y={1379} fontSize={16.3} fill="#111">Median pojection</text>
      <polygon points="101,1401 126,1390 126,1408 101,1419" fill="#96c8a4" />
      <line x1={101} y1={1401} x2={126} y2={1390} stroke="#2fb02f" strokeDasharray="4,2" />
      <line x1={101} y1={1419} x2={126} y2={1408} stroke="#2fb02f" strokeDasharray="4,2" />
      <text x={135} y={1405} fontSize={16.3} fill="#111">16th-84th percentiles</text>

      <g>
        <line x1={1048} x2={1048} y1={yBot(20)} y2={yBot(-60)} stroke="#111" strokeWidth={1.5} />
        {botTicks.map(t => (
          <line key={"bt" + t} x1={t % 20 === 0 ? 1041 : 1043} x2={1048} y1={yBot(t)} y2={yBot(t)} stroke="#111" strokeWidth={1.5} />
        ))}
        {botTicks.filter(t => t % 20 === 0).map(t => (
          <text key={"bl" + t} x={1056} y={yBot(t) + 6} fontSize={18} fontFamily={FN} fill="#111">{t}</text>
        ))}
        <g fontSize={23} fontWeight="bold" fill="#111" textAnchor="middle">
          <text transform={`translate(1112,1338) rotate(-90)`}>Global Sea level</text>
          <text transform={`translate(1137,1338) rotate(-90)`}>(m a.s.l)</text>
        </g>
      </g>

      {/* x axis */}
      <g>
        <line x1={x(100)} x2={x(140)} y1={1505} y2={1505} stroke="#111" strokeWidth={1.5} />
        {xTicks.map(t => (
          <line key={"xt" + t} x1={x(t)} x2={x(t)} y1={1505} y2={t % 5 === 0 ? 1514 : 1510} stroke="#111" strokeWidth={1.3} />
        ))}
        {xTicks.filter(t => t % 5 === 0).map(t => (
          <text key={"xl" + t} x={x(t)} y={1538} fontSize={19} fontFamily={FN} fill="#111" textAnchor="middle">{t}</text>
        ))}
        <text x={x(118)} y={1567} fontSize={22} fontWeight="bold" fontFamily={FN} fill="#111" textAnchor="middle" textLength={66} lengthAdjust="spacingAndGlyphs">Age (ka)</text>
      </g>
    </svg>
  );
}
